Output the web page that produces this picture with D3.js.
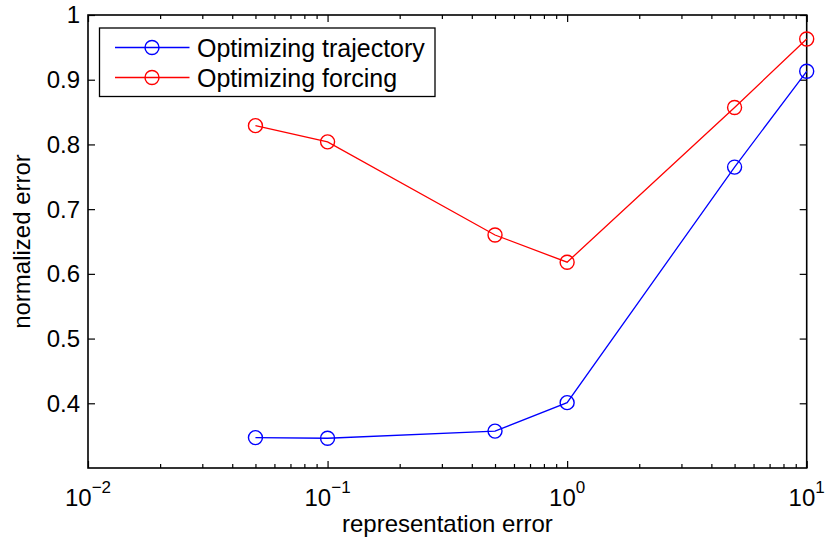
<!DOCTYPE html>
<html>
<head>
<meta charset="utf-8">
<script src="https://cdn.jsdelivr.net/npm/d3@7"></script>
<style>
  html, body { margin: 0; padding: 0; background: #fff; }
  svg { display: block; font-family: "Liberation Sans", Arial, Helvetica, sans-serif; }
</style>
</head>
<body>
<svg id="chart" width="825" height="542"></svg>
<script>
// ---- data ----
const repErrors = [0.05, 0.1, 0.5, 1, 5, 10];
const trajectoryErr = [0.347, 0.346, 0.357, 0.401, 0.765, 0.913];
const forcingErr = [0.829, 0.804, 0.660, 0.618, 0.857, 0.963];
const seriesNames = ["Optimizing trajectory", "Optimizing forcing"];
const seriesColors = ["#0000ff", "#ff0000"];
const xMajorTicks = [0.01, 0.1, 1, 10];
const xTickExponents = ["−2", "−1", "0", "1"];
const yTicks = [0.4, 0.5, 0.6, 0.7, 0.8, 0.9, 1.0];
const yTickLabels = ["0.4", "0.5", "0.6", "0.7", "0.8", "0.9", "1"];
const xLabel = "representation error";
const yLabel = "normalized error";

// ---- layout ----
const mLeft = 88, mRight = 806.7, mTop = 15, mBottom = 468;
const svg = d3.select("#chart");
svg.append("rect").attr("width", 825).attr("height", 542).attr("fill", "#fff");

const x = d3.scaleLog().domain([0.01, 10]).range([mLeft, mRight]);
const y = d3.scaleLinear().domain([0.3, 1]).range([mBottom, mTop]);

const xMinor = [];
[0.01, 0.1, 1].forEach(d => { for (let k = 2; k <= 9; k++) xMinor.push(d * k); });

const fontSize = 24;

// axes ticks (inward, on all four sides)
function styleAxis(g) {
  g.select(".domain").remove();
  g.selectAll(".tick line").attr("stroke", "#000").attr("stroke-width", 1.2);
  g.selectAll(".tick text").remove();
}
svg.append("g").attr("transform", `translate(0,${mBottom})`)
  .call(d3.axisBottom(x).tickValues(xMajorTicks).tickSize(-7).tickFormat("")).call(styleAxis);
svg.append("g").attr("transform", `translate(0,${mBottom})`)
  .call(d3.axisBottom(x).tickValues(xMinor).tickSize(-4).tickFormat("")).call(styleAxis);
svg.append("g").attr("transform", `translate(0,${mTop})`)
  .call(d3.axisTop(x).tickValues(xMajorTicks).tickSize(-7).tickFormat("")).call(styleAxis);
svg.append("g").attr("transform", `translate(0,${mTop})`)
  .call(d3.axisTop(x).tickValues(xMinor).tickSize(-4).tickFormat("")).call(styleAxis);
svg.append("g").attr("transform", `translate(${mLeft},0)`)
  .call(d3.axisLeft(y).tickValues(yTicks).tickSize(-7).tickFormat("")).call(styleAxis);
svg.append("g").attr("transform", `translate(${mRight},0)`)
  .call(d3.axisRight(y).tickValues(yTicks).tickSize(-7).tickFormat("")).call(styleAxis);

// box
svg.append("rect")
  .attr("x", mLeft).attr("y", mTop)
  .attr("width", mRight - mLeft).attr("height", mBottom - mTop)
  .attr("fill", "none").attr("stroke", "#000").attr("stroke-width", 1.6);

// x tick labels 10^n
xMajorTicks.forEach((v, i) => {
  const t = svg.append("text")
    .attr("x", x(v)).attr("y", 506)
    .attr("text-anchor", "middle")
    .attr("font-size", fontSize).attr("fill", "#000");
  t.append("tspan").text("10");
  t.append("tspan").attr("dy", -13).attr("font-size", 17).text(xTickExponents[i]);
});

// y tick labels
svg.selectAll("text.ylab").data(yTicks).enter().append("text")
  .attr("class", "ylab")
  .attr("x", 80).attr("y", d => y(d))
  .attr("dy", "0.35em")
  .attr("text-anchor", "end")
  .attr("font-size", fontSize).attr("fill", "#000")
  .text((d, i) => yTickLabels[i]);

// axis titles
svg.append("text")
  .attr("x", (mLeft + mRight) / 2).attr("y", 532)
  .attr("text-anchor", "middle").attr("font-size", fontSize).attr("fill", "#000")
  .text(xLabel);
svg.append("text")
  .attr("transform", `translate(30,${(mTop + mBottom) / 2}) rotate(-90)`)
  .attr("text-anchor", "middle").attr("font-size", fontSize).attr("fill", "#000")
  .text(yLabel);

// series
const series = [trajectoryErr, forcingErr];
const line = d3.line().x((d, i) => x(repErrors[i])).y(d => y(d));
series.forEach((vals, si) => {
  svg.append("path").datum(vals)
    .attr("d", line)
    .attr("fill", "none").attr("stroke", seriesColors[si]).attr("stroke-width", 1.3);
  svg.selectAll(null).data(vals).enter().append("circle")
    .attr("cx", (d, i) => x(repErrors[i])).attr("cy", d => y(d))
    .attr("r", 7).attr("fill", "none")
    .attr("stroke", seriesColors[si]).attr("stroke-width", 1.4);
});

// legend
const lg = svg.append("g");
lg.append("rect").attr("x", 99.5).attr("y", 28).attr("width", 335.5).attr("height", 68.5)
  .attr("fill", "#fff").attr("stroke", "#000").attr("stroke-width", 1.3);
const rowY = [47.5, 77.5];
seriesNames.forEach((name, i) => {
  lg.append("line").attr("x1", 115).attr("x2", 189.5).attr("y1", rowY[i]).attr("y2", rowY[i])
    .attr("stroke", seriesColors[i]).attr("stroke-width", 1.3);
  lg.append("circle").attr("cx", 152).attr("cy", rowY[i]).attr("r", 7)
    .attr("fill", "none").attr("stroke", seriesColors[i]).attr("stroke-width", 1.4);
  lg.append("text").attr("x", 197).attr("y", rowY[i]).attr("dy", "0.36em")
    .attr("font-size", 25).attr("fill", "#000").text(name);
});
</script>
</body>
</html>
